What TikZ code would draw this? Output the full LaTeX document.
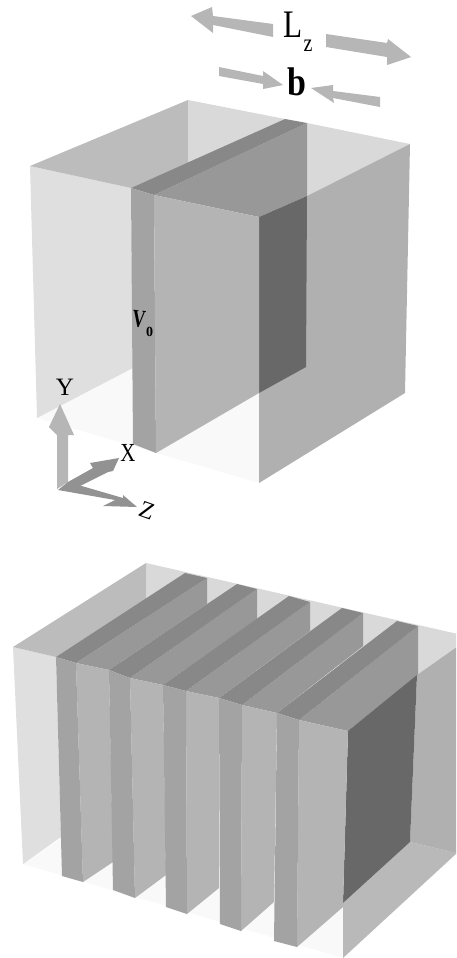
\documentclass[tikz,border=0pt]{standalone}
\usepackage{fontspec}
\setmainfont{Liberation Serif}
\definecolor{pale}{HTML}{DFDFDF}
\definecolor{wallback}{HTML}{D9D9D9}
\definecolor{wallleft}{HTML}{BCBCBC}
\definecolor{wallright}{HTML}{B0B0B0}
\definecolor{wallrightlow}{HTML}{B9B9B9}
\definecolor{floorc}{HTML}{F9F9F9}
\definecolor{striptop}{HTML}{888888}
\definecolor{slabtop}{HTML}{989898}
\definecolor{stripfront}{HTML}{A3A3A3}
\definecolor{slabside}{HTML}{B4B4B4}
\definecolor{darkface}{HTML}{686868}
\definecolor{arrowc}{HTML}{B6B6B6}
\definecolor{axisdark}{HTML}{929292}
\tikzset{
  pa/.style={fill=#1,draw=none},
  lab/.style={inner sep=0pt,text=black}
}
\begin{document}
\begin{tikzpicture}[x=1pt,y=-1pt]
\useasboundingbox (0,0) rectangle (456,958);
\clip (0,0) rectangle (456,958);
% --- top box ---
\fill[pa=floorc] (37,418) -- (188,340) -- (259,393) -- (259,483) -- cycle;
\fill[pa=pale] (30,166) -- (131,188) -- (133,368) -- (37,418) -- cycle;
\fill[pa=wallleft] (30,166) -- (188,100) -- (188,163) -- (131,188) -- cycle;
\fill[pa=wallback] (188,100) -- (285,119) -- (188,163) -- cycle;
\fill[pa=wallback] (307,123) -- (410,144) -- (307,196) -- cycle;
\fill[pa=slabtop] (154,195) -- (307,123) -- (307,196) -- (259,217) -- cycle;
\fill[pa=striptop] (131,188) -- (285,119) -- (307,123) -- (154,195) -- cycle;
\fill[pa=wallright] (307,196) -- (410,144) -- (405,393) -- (259,483) -- (259,393) -- cycle;
\fill[pa=darkface] (259,217) -- (307,196) -- (306,367) -- (259,393) -- cycle;
\fill[pa=stripfront] (131,188) -- (154,195) -- (156,453) -- (133,444) -- cycle;
\fill[pa=slabside] (154,195) -- (259,217) -- (259,393) -- (156,453) -- cycle;
% --- dimension arrows ---
\fill[pa=arrowc] (191,16) -- (212,7) -- (213,16) -- (273,24) -- (273,37) -- (213,25) -- (213,33) -- cycle;
\fill[pa=arrowc] (326,34) -- (387,43) -- (388,39) -- (411,57) -- (387,65) -- (387,57) -- (326,47) -- cycle;
\fill[pa=arrowc] (219,67) -- (263,76) -- (263,71) -- (283,85) -- (263,89) -- (263,84) -- (219,76) -- cycle;
\fill[pa=arrowc] (311,88) -- (333,85) -- (333,91) -- (380,97) -- (380,107) -- (333,98) -- (334,103) -- cycle;
\node[lab,xscale=.8] (lz) at (293,25) {\fontsize{39}{39}\selectfont L};
\node[lab,xscale=.8] (lzsub) at (308,46) {\fontsize{25}{25}\selectfont z};
\node[lab,xscale=.85] (bb) at (297,82) {\fontsize{40}{40}\selectfont\bfseries b};
\node[lab,rotate=-6,xscale=.72] (v) at (139,319) {\fontsize{25}{25}\selectfont\bfseries V};
\node[lab] (vsub) at (149.5,332) {\fontsize{14}{14}\selectfont\bfseries 0};
% --- axes ---
\fill[pa=arrowc] (60,404) -- (74,435) -- (68,435) -- (68,482) -- (57,489) -- (57,435) -- (49,427) -- cycle;
\fill[pa=axisdark] (119,458) -- (113,471) -- (108,472) -- (72,490) -- (68,482) -- (93,468) -- (90,463) -- cycle;
\fill[pa=axisdark] (137,507) -- (103,506) -- (115,500) -- (58,490) -- (68,482) -- (123,498) -- (123,495) -- cycle;
\node[lab] (ya) at (65,387) {\fontsize{25}{25}\selectfont Y};
\node[lab,xscale=.8] (xa) at (128,453) {\fontsize{26}{26}\selectfont X};
\node[lab,rotate=-20] (za) at (147,511) {\fontsize{24}{24}\selectfont Z};
% --- bottom box ---
\fill[pa=floorc] (23,864) -- (150,780) -- (343,903) -- (343,958) -- cycle;
\fill[pa=pale] (13,647) -- (56,657) -- (61,837) -- (23,864) -- cycle;
\fill[pa=wallleft] (13,647) -- (146,563) -- (146,600) -- (56,657) -- cycle;
\fill[pa=wallback] (146,563) -- (471,637) -- (417,675) -- (146,640) -- cycle;
% slab tops
\fill[pa=slabtop] (76,663) -- (207,578) -- (207,604) -- (109,670) -- cycle;
\fill[pa=slabtop] (130,678) -- (257,589) -- (257,619) -- (163,685) -- cycle;
\fill[pa=slabtop] (186,691) -- (310,602) -- (310,631) -- (219,698) -- cycle;
\fill[pa=slabtop] (242,705) -- (363,613) -- (363,646) -- (277,713) -- cycle;
\fill[pa=slabtop] (299,720) -- (418,626) -- (418,675) -- (348,731) -- cycle;
\fill[pa=striptop] (56,657) -- (185,573) -- (207,578) -- (76,663) -- cycle;
\fill[pa=striptop] (109,670) -- (237,584) -- (257,589) -- (130,678) -- cycle;
\fill[pa=striptop] (163,685) -- (289,596) -- (310,602) -- (186,691) -- cycle;
\fill[pa=striptop] (219,698) -- (342,608) -- (363,613) -- (242,705) -- cycle;
\fill[pa=striptop] (277,713) -- (397,621) -- (418,626) -- (299,720) -- cycle;
% right wall
\fill[pa=wallright] (417,675) -- (471,637) -- (471,853) -- (456,853) -- (410,842) -- cycle;
\fill[pa=wallrightlow] (410,842) -- (457,853) -- (343,958) -- (343,903) -- cycle;
\fill[pa=darkface] (348,731) -- (417,675) -- (410,842) -- (343,903) -- cycle;
% slab fronts
\fill[pa=slabside] (76,663) -- (109,670) -- (113,862) -- (83,882) -- cycle;
\fill[pa=slabside] (130,678) -- (163,685) -- (166,875) -- (135,898) -- cycle;
\fill[pa=slabside] (186,691) -- (219,698) -- (219,888) -- (187,914) -- cycle;
\fill[pa=slabside] (242,705) -- (277,713) -- (274,902) -- (241,931) -- cycle;
\fill[pa=slabside] (299,720) -- (348,731) -- (343,903) -- (343,907) -- (297,947) -- cycle;
\fill[pa=stripfront] (56,657) -- (76,663) -- (83,882) -- (62,876) -- cycle;
\fill[pa=stripfront] (109,670) -- (130,678) -- (135,898) -- (113,890) -- cycle;
\fill[pa=stripfront] (163,685) -- (186,691) -- (187,914) -- (166,907) -- cycle;
\fill[pa=stripfront] (219,698) -- (242,705) -- (241,931) -- (220,924) -- cycle;
\fill[pa=stripfront] (277,713) -- (299,720) -- (297,947) -- (274,941) -- cycle;
\end{tikzpicture}
\end{document}
